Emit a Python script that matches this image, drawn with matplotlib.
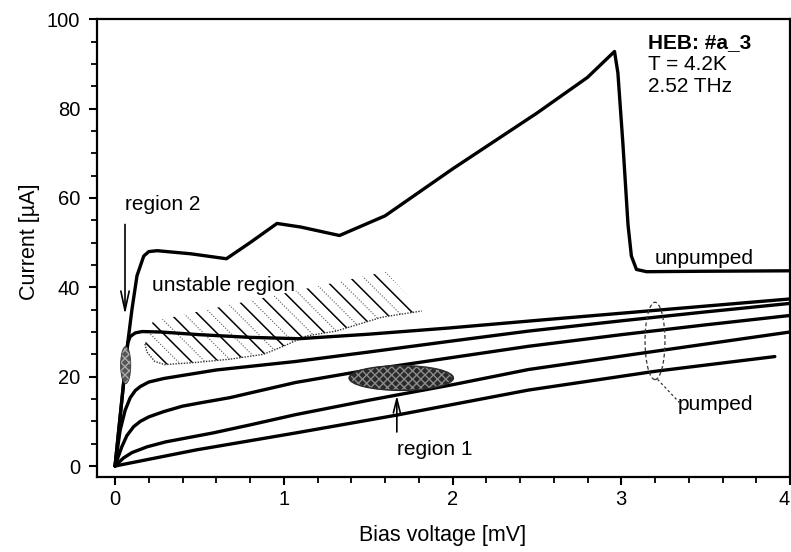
import numpy as np
import matplotlib
matplotlib.use("Agg")
import matplotlib.pyplot as plt
from matplotlib.patches import Ellipse, Polygon
from matplotlib.ticker import MultipleLocator

plt.rcParams['font.family'] = ['Liberation Sans', 'DejaVu Sans']

# ---------------- data ----------------
unpumped_v = [0, 0.075, 0.10, 0.13, 0.17, 0.20, 0.25, 0.45, 0.66, 0.80, 0.96, 1.10, 1.33,
              1.60, 2.00, 2.50, 2.80, 2.96, 2.98, 3.01, 3.04, 3.06, 3.09, 3.15, 3.50, 4.0]
unpumped_i = [0, 27.5, 35.0, 42.6, 47.0, 48.0, 48.2, 47.5, 46.4, 50.0, 54.3, 53.5, 51.6,
              56.0, 66.5, 79.0, 87.0, 92.8, 88.0, 72.0, 54.0, 47.0, 44.0, 43.5, 43.6, 43.7]

pumpA_v = [0, 0.075, 0.09, 0.12, 0.16, 0.27, 0.5, 0.8, 1.09, 1.5, 1.98, 2.5, 3.0, 3.5, 4.0]
pumpA_i = [0, 27.5, 29.0, 29.8, 30.1, 30.0, 29.4, 28.8, 28.5, 29.5, 30.9, 32.6, 34.2, 35.8, 37.4]

pumpB_v = [0, 0.03, 0.06, 0.09, 0.12, 0.15, 0.2, 0.29, 0.6, 1.07, 1.5, 2.0, 2.45, 3.0, 3.5, 4.0]
pumpB_i = [0, 8.0, 12.5, 15.3, 16.9, 17.8, 18.8, 19.6, 21.5, 23.4, 25.5, 28.0, 30.2, 32.5, 34.5, 36.4]

pumpC_v = [0, 0.02, 0.04, 0.07, 0.11, 0.15, 0.2, 0.29, 0.4, 0.5, 0.68, 1.07, 1.5, 2.0, 2.45, 3.0, 3.5, 4.0]
pumpC_i = [0, 2.2, 4.3, 6.8, 8.8, 10.0, 11.0, 12.2, 13.4, 14.1, 15.3, 18.7, 21.5, 24.3, 26.8, 29.4, 31.6, 33.7]

pumpD_v = [0, 0.05, 0.1, 0.19, 0.3, 0.58, 0.8, 1.07, 1.5, 2.0, 2.45, 3.0, 3.5, 4.0]
pumpD_i = [0, 1.8, 3.0, 4.3, 5.4, 7.4, 9.2, 11.5, 14.7, 18.2, 21.6, 24.6, 27.3, 30.0]

pumpE_v = [0, 0.48, 1.07, 1.67, 2.45, 3.2, 3.91]
pumpE_i = [0, 3.6, 7.4, 11.4, 17.0, 21.2, 24.5]

# unstable (hatched) region outline: dotted lower edge, then upper edge back
unstable_low_v = [0.177, 0.189, 0.236, 0.295, 0.484, 0.678, 0.879, 0.997, 1.133, 1.31, 1.58, 1.817]
unstable_low_i = [27.3, 25.5, 23.4, 22.7, 23.2, 23.9, 25.0, 26.8, 29.1, 30.2, 33.3, 34.7]
unstable_top_v = [1.605, 0.224]
unstable_top_i = [43.5, 32.4]

xticks = [0, 1, 2, 3, 4]
yticks = [0, 20, 40, 60, 80, 100]
info_lines = ["HEB: #a_3", "T = 4.2K", "2.52 THz"]

# ---------------- figure ----------------
fig = plt.figure(figsize=(7.91, 5.52), dpi=100)
ax = fig.add_axes([97/791, 1-477/552, 693/791, 457.7/552])
ax.set_xlim(-0.107, 4.0)
ax.set_ylim(-2.46, 100)

lw_curve = 2.4
for v, i in [(unpumped_v, unpumped_i), (pumpA_v, pumpA_i), (pumpB_v, pumpB_i),
             (pumpC_v, pumpC_i), (pumpD_v, pumpD_i), (pumpE_v, pumpE_i)]:
    ax.plot(v, i, color='black', lw=lw_curve, solid_joinstyle='round',
            solid_capstyle='round', zorder=3)

# hatched unstable region
poly_v = unstable_low_v + unstable_top_v
poly_i = unstable_low_i + unstable_top_i
poly = Polygon(np.column_stack([poly_v, poly_i]), closed=True, fill=False,
               edgecolor='none', lw=0)
ax.add_patch(poly)
p0 = ax.transData.transform((0, 0))
px = ax.transData.transform((1, 0))[0] - p0[0]
py = ax.transData.transform((0, 1))[1] - p0[1]
slope = -px / py  # 45 degree in display
step = 0.08
vv = np.array([-0.5, 2.5])
for k, c in enumerate(np.arange(-0.6, 2.0, step)):
    ii = 45 + slope * (vv - c)
    ln, = ax.plot(vv, ii, color='black' if k % 2 == 0 else '#555555',
                  lw=1.1 if k % 2 == 0 else 0.8,
                  ls='-' if k % 2 == 0 else (0, (1, 1.5)), zorder=2)
    ln.set_clip_path(poly)
ax.plot(unstable_low_v, unstable_low_i, color='#333333', lw=1.0, ls=(0, (1, 1)), zorder=2)

# region 1 (dark stippled ellipse)
e1 = Ellipse((1.696, 19.7), 0.62, 5.6, facecolor='#2a2a2a', edgecolor='#2a2a2a', lw=0.8, zorder=4)
ax.add_patch(e1)
e1b = Ellipse((1.696, 19.7), 0.6, 5.2, facecolor='none', edgecolor='#8a8a8a', lw=0,
              hatch='xxxx', zorder=4)
ax.add_patch(e1b)

# region 2 (small stippled ellipse)
e2 = Ellipse((0.063, 22.6), 0.06, 8.3, facecolor='#555555', edgecolor='#333333', lw=0.6, zorder=4)
ax.add_patch(e2)
e2b = Ellipse((0.063, 22.6), 0.055, 8.0, facecolor='none', edgecolor='#aaaaaa', lw=0,
              hatch='xxxx', zorder=4)
ax.add_patch(e2b)

# pumped ellipse (dashed)
e3 = Ellipse((3.2, 28.0), 0.118, 17.3, facecolor='none', edgecolor='#333333', lw=0.9,
             ls=(0, (3, 2)), zorder=4)
ax.add_patch(e3)
ax.plot([3.215, 3.345], [19.4, 14.2], color='#333333', lw=0.9, ls=(0, (2, 2)), zorder=4)

# arrows
ax.annotate('', xy=(0.059, 33.3), xytext=(0.059, 54.7),
            arrowprops=dict(arrowstyle='->,head_length=1.4,head_width=0.3', lw=1.2, color='black'))
ax.annotate('', xy=(1.67, 16.4), xytext=(1.67, 7.0),
            arrowprops=dict(arrowstyle='->,head_length=1.0,head_width=0.25', lw=1.2, color='black'))

fs = 15
ax.text(0.06, 58.5, "region 2", fontsize=fs, ha='left', va='center')
ax.text(0.218, 40.3, "unstable region", fontsize=fs, ha='left', va='center')
ax.text(1.67, 3.6, "region 1", fontsize=fs, ha='left', va='center')
ax.text(3.2, 46.4, "unpumped", fontsize=fs, ha='left', va='center')
ax.text(3.335, 13.7, "pumped", fontsize=fs, ha='left', va='center')
ax.text(3.156, 94.7, info_lines[0], fontsize=fs, ha='left', va='center', fontweight='bold')
ax.text(3.156, 89.8, info_lines[1], fontsize=fs, ha='left', va='center')
ax.text(3.156, 84.9, info_lines[2], fontsize=fs, ha='left', va='center')

# axes styling
ax.set_xticks(xticks)
ax.set_yticks(yticks)
ax.xaxis.set_minor_locator(MultipleLocator(0.2))
ax.yaxis.set_minor_locator(MultipleLocator(5))
ax.tick_params(which='major', length=6, width=1.5, labelsize=14.5, direction='out')
ax.tick_params(axis='x', which='major', pad=3.5)
ax.tick_params(axis='y', which='major', pad=6)
ax.tick_params(which='minor', length=4.5, width=1.3, direction='out')
for s in ax.spines.values():
    s.set_linewidth(1.6)
ax.get_xticklabels()[-1].set_horizontalalignment('right')

fig.text(30/791, 1-242/552, "Current [µA]", rotation=90, ha='center', va='center', fontsize=15.5)
fig.text(443/791, 1-535/552, "Bias voltage [mV]", ha='center', va='center', fontsize=15.5)

fig.savefig("out.png", dpi=100)
